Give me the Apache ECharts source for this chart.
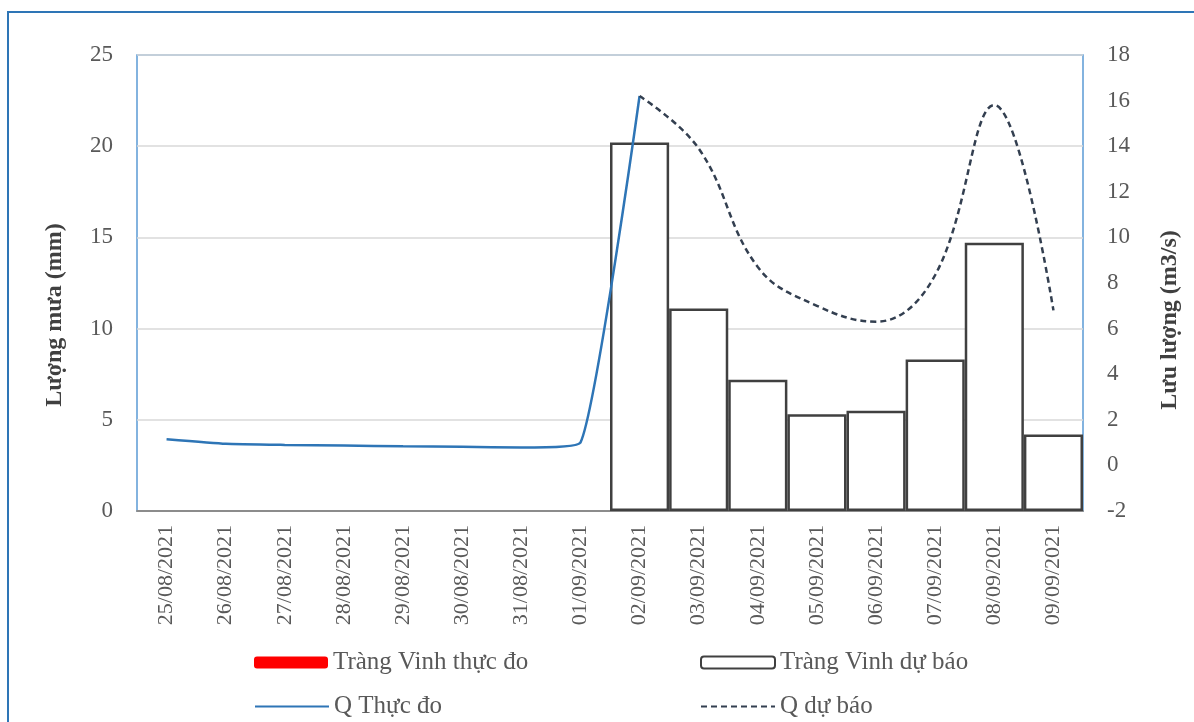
<!DOCTYPE html>
<html><head><meta charset="utf-8">
<script src="https://cdn.jsdelivr.net/npm/echarts@6/dist/echarts.min.js"></script>
<style>html,body{margin:0;padding:0;background:#fff}#c{width:1194px;height:722px}</style>
</head><body><div id="c"></div>
<script>
const categories = ['25/08/2021','26/08/2021','27/08/2021','28/08/2021','29/08/2021','30/08/2021','31/08/2021','01/09/2021','02/09/2021','03/09/2021','04/09/2021','05/09/2021','06/09/2021','07/09/2021','08/09/2021','09/09/2021'];
const rainObserved = [0,0,0,0,0,0,0,0,null,null,null,null,null,null,null,null];
const rainForecast = [null,null,null,null,null,null,null,null,20.2,11.1,7.2,5.3,5.5,8.3,14.7,4.2];
const qObserved = [1.15,0.95,0.9,0.87,0.84,0.82,0.78,1.0,16.2,null,null,null,null,null,null,null];
const qForecast = [null,null,null,null,null,null,null,null,16.2,13.9,8.7,7.0,6.3,8.35,15.8,6.8];
const leftTicks = {min:0,max:25,interval:5};
const rightTicks = {min:-2,max:18,interval:2};

const FONT = '"Liberation Serif","Times New Roman",serif';
const chart = echarts.init(document.getElementById('c'));
const legendText = {fontFamily:FONT,fontSize:25,color:'#595959'};
const mkLegend = (name,left,top,isLine)=>{
  const l = {data:[name],left,top,itemWidth:74,itemHeight:12,textStyle:legendText,itemGap:0,padding:0};
  if (isLine) l.itemStyle = {color:'rgba(0,0,0,0)',borderColor:'rgba(0,0,0,0)',borderWidth:0};
  return l;
};
chart.setOption({
  animation:false,
  graphic:[
    {type:'rect',shape:{x:8,y:12,width:1400,height:900},style:{fill:'none',stroke:'#2e75b6',lineWidth:2},silent:true},
    {type:'text',x:55,y:315,rotation:Math.PI/2,style:{text:'Lượng mưa (mm)',font:'bold 24px '+FONT,fill:'#404040',align:'center',verticalAlign:'middle'}},
    {type:'text',x:1170,y:320,rotation:Math.PI/2,style:{text:'Lưu lượng (m3/s)',font:'bold 24px '+FONT,fill:'#404040',align:'center',verticalAlign:'middle'}}
  ],
  grid:{left:137,right:111,top:55,bottom:211,show:true,borderColor:'#5b9bd5',borderWidth:1.5,backgroundColor:'transparent'},
  legend:[
    mkLegend('Tràng Vinh thực đo',254,650,false),
    mkLegend('Tràng Vinh dự báo',700,650,false),
    mkLegend('Q Thực đo',254,694,true),
    mkLegend('Q dự báo',700,694,true)
  ],
  xAxis:{type:'category',data:categories,boundaryGap:true,
    axisLine:{lineStyle:{color:'#8c8c8c',width:2}},axisTick:{show:false},
    axisLabel:{rotate:90,fontFamily:FONT,fontSize:22,color:'#595959',margin:14,interval:0}},
  yAxis:[
    {type:'value',min:leftTicks.min,max:leftTicks.max,interval:leftTicks.interval,
      axisLine:{show:false},axisTick:{show:false},
      splitLine:{lineStyle:{color:'#d9d9d9',width:1.5}},
      axisLabel:{fontFamily:FONT,fontSize:23,color:'#595959',margin:24}},
    {type:'value',min:rightTicks.min,max:rightTicks.max,interval:rightTicks.interval,position:'right',
      axisLine:{show:false},axisTick:{show:false},splitLine:{show:false},
      axisLabel:{fontFamily:FONT,fontSize:23,color:'#595959',margin:24}}
  ],
  series:[
    {name:'Tràng Vinh thực đo',type:'bar',stack:'rain',data:rainObserved,barCategoryGap:'0%',
      itemStyle:{color:'#ff0000'}},
    {name:'Tràng Vinh dự báo',type:'bar',stack:'rain',data:rainForecast,barCategoryGap:'0%',
      itemStyle:{color:'#ffffff',borderColor:'#404040',borderWidth:2.5}},
    {name:'Q Thực đo',type:'line',yAxisIndex:1,data:qObserved,smooth:0.15,smoothConstraint:false,symbol:'none',
      lineStyle:{color:'#2e75b6',width:2.5},itemStyle:{color:'#2e75b6'},z:5},
    {name:'Q dự báo',type:'line',yAxisIndex:1,data:qForecast,smooth:0.4,symbol:'none',
      lineStyle:{color:'#333f50',width:2.5,type:[6,4]},itemStyle:{color:'#333f50'},z:5}
  ]
});
</script></body></html>
